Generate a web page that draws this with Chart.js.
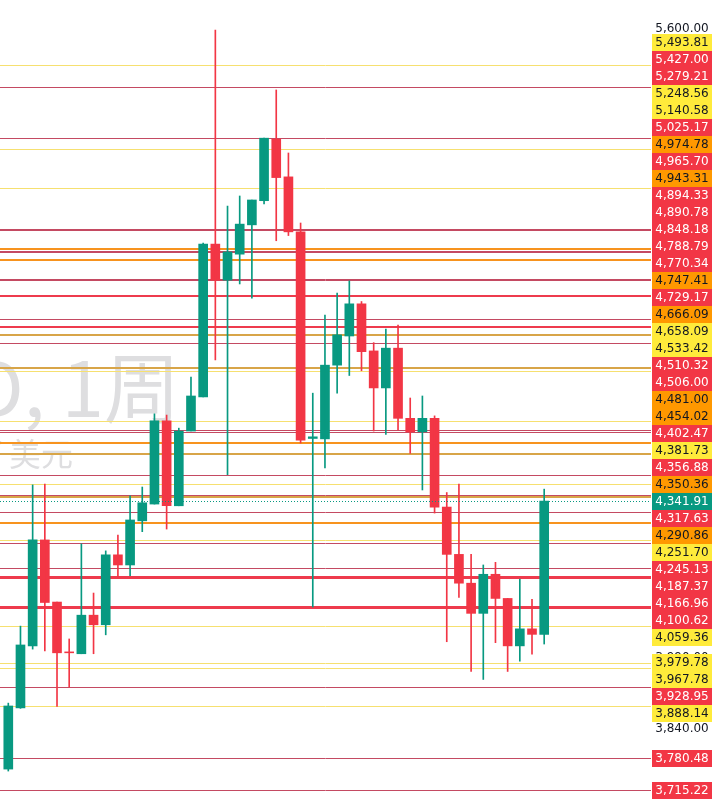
<!DOCTYPE html>
<html>
<head>
<meta charset="utf-8">
<script src="https://cdn.jsdelivr.net/npm/chart.js@4.4.1/dist/chart.umd.min.js"></script>
<style>
  html, body { margin: 0; padding: 0; background: #ffffff; }
</style>
</head>
<body>
<canvas id="chCandles" width="716" height="802"></canvas>
<script>
/* XAUUSD weekly candles with price levels */

// weekly OHLC, oldest first
var opens  = [3758, 3884, 4016, 4252, 4112, 4003, 3999, 4083, 4062, 4218, 4195, 4296, 4335, 4534, 4331, 4509,
              4593, 4987, 4891, 4960, 5039, 5105, 5277, 5171, 5020, 4491, 4490, 4672, 4746, 4829, 4708, 4615,
              4715, 4540, 4507, 4540, 4328, 4219, 4154, 4087, 4174, 4120, 4016, 4053, 4041];
var highs  = [3894, 4059, 4380, 4382, 4112, 4031, 4243, 4132, 4227, 4263, 4354, 4375, 4551, 4548, 4516, 4642,
              4990, 5597, 5090, 5118, 5107, 5280, 5419, 5238, 5044, 4602, 4800, 4857, 4889, 4835, 4729, 4764,
              4774, 4590, 4595, 4546, 4362, 4382, 4219, 4195, 4201, 4120, 4163, 4118, 4370];
var lows   = [3754, 3883, 4009, 4005, 3887, 3928, 3999, 3999, 4040, 4168, 4171, 4271, 4335, 4277, 4331, 4509,
              4593, 4685, 4404, 4881, 4844, 5096, 4996, 5010, 4480, 4101, 4420, 4602, 4646, 4658, 4509, 4501,
              4512, 4455, 4368, 4314, 4025, 4122, 3961, 3944, 4023, 3961, 3983, 3998, 4020];
var closes = [3888, 4018, 4252, 4111, 4001, 4001, 4083, 4062, 4218, 4195, 4298, 4338, 4534, 4331, 4509, 4595,
              4987, 4891, 4966, 5041, 5107, 5280, 5169, 5020, 4487, 4495, 4672, 4749, 4829, 4706, 4615, 4715,
              4540, 4507, 4540, 4328, 4219, 4154, 4087, 4174, 4120, 4016, 4053, 4041, 4341.91];

// horizontal levels and their kind
var levels = [5493.81, 5427.00, 5279.21, 5248.56, 5140.58, 5025.17, 4974.78, 4965.70, 4943.31, 4894.33, 4890.78,
              4848.18, 4788.79, 4770.34, 4747.41, 4729.17, 4666.09, 4658.09, 4533.42, 4510.32, 4506.00, 4481.00,
              4454.02, 4402.47, 4381.73, 4356.88, 4350.36, 4317.63, 4290.86, 4251.70, 4245.13, 4187.37, 4166.96,
              4100.62, 4059.36, 3979.78, 3967.78, 3928.95, 3888.14, 3780.48, 3715.22];
var levelKinds = ['y', 'r', 'r', 'y', 'y', 'r2', 'o', 'r2', 'o', 'r', 'r',
                  'R', 'r', 'R', 'g', 'r', 'g', 'y', 'y', 'r', 'r', 'o',
                  'g', 'r', 'y', 'r', 'g', 'r', 'o', 'y', 'r', 'r', 'R3',
                  'R3', 'y', 'y', 'y', 'r', 'y', 'r', 'r'];

var lastPrice = 4341.91;
var axisTicks = [5600, 3990, 3840];

// colors
var upColor = '#089981';
var downColor = '#f23645';
var lineStyles = {
  r:  {color: '#c44a62', width: 1},
  r2: {color: '#c44a62', width: 2},
  R:  {color: '#ee3b4d', width: 2},
  R3: {color: '#ee3b4d', width: 3},
  y:  {color: '#f6e070', width: 1},
  o:  {color: '#f7931e', width: 2},
  g:  {color: '#d8a548', width: 2}
};
var boxColors = {r: '#f23645', r2: '#f23645', R: '#f23645', R3: '#f23645', y: '#ffeb3b', o: '#ff9800', g: '#ff9800'};
var boxText = {r: '#ffffff', r2: '#ffffff', R: '#ffffff', R3: '#ffffff', y: '#131722', o: '#131722', g: '#131722'};

var idx = opens.map(function (v, i) { return i; });
var candleColors = idx.map(function (i) { return closes[i] >= opens[i] ? upColor : downColor; });

// watermark and level lines behind the candles
var watermark = {
  id: 'watermark',
  beforeDatasetsDraw: function (chart) {
    var ctx = chart.ctx;
    ctx.save();
    ctx.fillStyle = '#dedee0';
    ctx.textAlign = 'right';
    ctx.textBaseline = 'alphabetic';
    ctx.font = '76px "Noto Sans CJK SC"';
    ctx.fillText('XAUUSD, 1周', 180, 417);
    ctx.font = '32px "Noto Sans CJK SC"';
    ctx.fillText('黄金现货 / 美元', 73, 466);

    var ys = chart.scales.y;
    var a = chart.chartArea;
    levels.forEach(function (p, i) {
      var st = lineStyles[levelKinds[i]];
      var y = Math.round(ys.getPixelForValue(p)) + (st.width % 2 ? 0.5 : 0);
      ctx.strokeStyle = st.color;
      ctx.lineWidth = st.width;
      ctx.beginPath();
      ctx.moveTo(a.left, y);
      ctx.lineTo(a.right, y);
      ctx.stroke();
    });
    ctx.restore();
  }
};

// price scale labels on the right
var priceLabels = {
  id: 'priceLabels',
  afterDraw: function (chart) {
    var ctx = chart.ctx;
    var ys = chart.scales.y;
    var a = chart.chartArea;
    ctx.save();

    // current price dotted line
    var yc = Math.round(ys.getPixelForValue(lastPrice)) + 0.5;
    ctx.strokeStyle = upColor;
    ctx.lineWidth = 1;
    ctx.setLineDash([1, 2]);
    ctx.beginPath();
    ctx.moveTo(a.left, yc);
    ctx.lineTo(a.right, yc);
    ctx.stroke();
    ctx.setLineDash([]);

    ctx.font = '12px "DejaVu Sans"';
    ctx.textAlign = 'center';
    ctx.textBaseline = 'middle';
    var cx = a.right + 31;

    // axis ticks
    ctx.fillStyle = '#131722';
    axisTicks.forEach(function (t) {
      ctx.fillText(t.toLocaleString('en-US', {minimumFractionDigits: 2}), cx, ys.getPixelForValue(t));
    });

    // stack labels so they do not overlap, current price stays put
    var items = levels.map(function (p, i) { return {p: p, k: levelKinds[i]}; });
    items.push({p: lastPrice, k: 'cur'});
    items.sort(function (u, v) { return v.p - u.p; });
    items.forEach(function (it) { it.y = ys.getPixelForValue(it.p); });
    var h = 17;
    var ci = items.findIndex(function (it) { return it.k === 'cur'; });
    for (var i = ci - 1; i >= 0; i--) items[i].y = Math.min(items[i].y, items[i + 1].y - h);
    for (var j = ci + 1; j < items.length; j++) items[j].y = Math.max(items[j].y, items[j - 1].y + h);

    items.forEach(function (it) {
      var bg = it.k === 'cur' ? upColor : boxColors[it.k];
      var fg = it.k === 'cur' ? '#ffffff' : boxText[it.k];
      var top = Math.round(it.y - h / 2);
      ctx.fillStyle = bg;
      ctx.fillRect(a.right + 1, top, 60, h);
      ctx.fillStyle = fg;
      ctx.fillText(it.p.toLocaleString('en-US', {minimumFractionDigits: 2}), cx, top + h / 2 + 0.5);
    });
    ctx.restore();
  }
};

var chCandles = document.getElementById('chCandles');
new Chart(chCandles, {
  type: 'bar',
  data: {
    datasets: [
      {
        data: idx.map(function (i) { return {x: i, y: [lows[i], highs[i]]}; }),
        backgroundColor: candleColors,
        barThickness: 1,
        borderWidth: 0,
        grouped: false
      },
      {
        data: idx.map(function (i) { return {x: i, y: [opens[i], closes[i]]}; }),
        backgroundColor: candleColors,
        barThickness: 9,
        borderWidth: 0,
        borderSkipped: false,
        grouped: false
      }
    ]
  },
  options: {
    responsive: false,
    animation: false,
    devicePixelRatio: 1,
    layout: {padding: {left: 0, right: 65, top: 0, bottom: 0}},
    plugins: {legend: {display: false}, tooltip: {enabled: false}},
    scales: {
      x: {type: 'linear', offset: false, min: -0.681, max: 52.77, display: false},
      y: {type: 'logarithmic', min: 3691.9, max: 5688.2, display: false}
    }
  },
  plugins: [watermark, priceLabels]
});
</script>
</body>
</html>
